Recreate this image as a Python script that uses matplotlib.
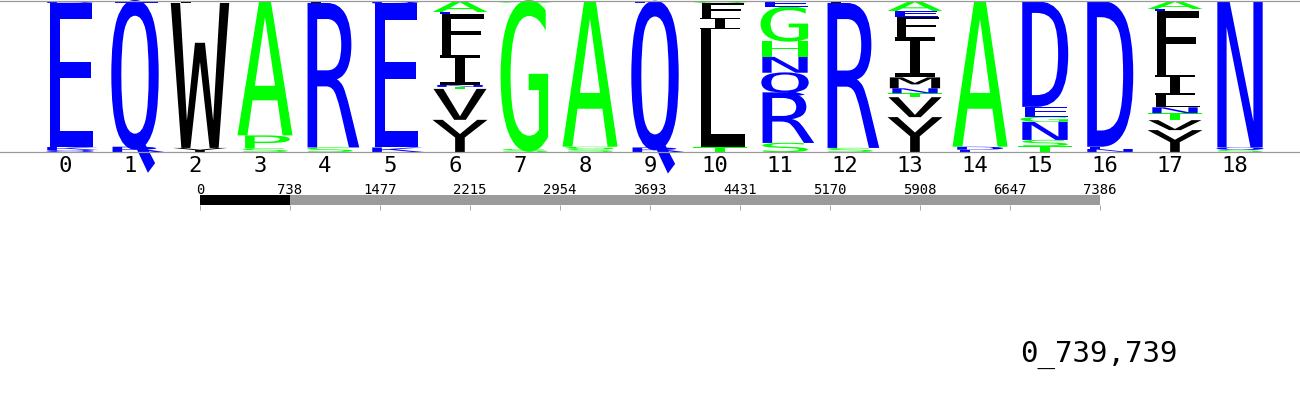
import numpy as np
import matplotlib
matplotlib.use("Agg")
import matplotlib.pyplot as plt
from matplotlib.textpath import TextPath
from matplotlib.font_manager import FontProperties
from matplotlib.path import Path
from matplotlib.patches import PathPatch

# ---------------- data ----------------
positions = list(range(19))
# letters of each column, listed top to bottom
column_letters = [
    ["D", "E", "K", "Q"],
    ["E", "Q", "R"],
    ["L", "W", "Y"],
    ["A", "P", "S"],
    ["L", "R", "S"],
    ["D", "E", "K"],
    ["A", "E", "F", "I", "N", "T", "V", "Y"],
    ["A", "G", "S"],
    ["A", "G", "S"],
    ["E", "Q", "R"],
    ["A", "F", "I", "L", "T"],
    ["E", "G", "H", "N", "Q", "R", "S"],
    ["L", "R", "S"],
    ["A", "E", "F", "I", "M", "N", "T", "V", "Y"],
    ["A", "D", "E"],
    ["D", "E", "G", "N", "S", "T"],
    ["D", "E", "N"],
    ["A", "E", "F", "I", "L", "N", "T", "V", "Y"],
    ["N", "Q", "S"],
]
# matching frequencies (same order)
column_probs = [
    [0.013, 0.954, 0.020, 0.013],
    [0.010, 0.955, 0.035],
    [0.013, 0.960, 0.027],
    [0.890, 0.085, 0.025],
    [0.013, 0.957, 0.030],
    [0.015, 0.955, 0.030],
    [0.073, 0.013, 0.270, 0.200, 0.013, 0.013, 0.205, 0.213],
    [0.010, 0.970, 0.020],
    [0.965, 0.015, 0.020],
    [0.015, 0.955, 0.030],
    [0.013, 0.100, 0.073, 0.781, 0.033],
    [0.040, 0.225, 0.105, 0.105, 0.130, 0.335, 0.060],
    [0.013, 0.960, 0.027],
    [0.066, 0.040, 0.130, 0.270, 0.072, 0.033, 0.026, 0.132, 0.231],
    [0.965, 0.020, 0.015],
    [0.700, 0.066, 0.033, 0.120, 0.040, 0.040],
    [0.965, 0.015, 0.020],
    [0.053, 0.013, 0.421, 0.138, 0.079, 0.039, 0.046, 0.066, 0.145],
    [0.970, 0.015, 0.015],
]
coverage_total = 7386
coverage_selected = 739
coverage_ticks = [0, 738, 1477, 2215, 2954, 3693, 4431, 5170, 5908, 6647, 7386]
caption = "0_739,739"

# ---------------- style ----------------
GREEN, BLUE, BLACK = "#00ff00", "#0000ff", "#000000"
letter_colors = {}
for c in "AGHPSTC":
    letter_colors[c] = GREEN
for c in "DEKNQR":
    letter_colors[c] = BLUE
for c in "FILMVWY":
    letter_colors[c] = BLACK

mono = FontProperties(family="DejaVu Sans Mono")
cap_h = TextPath((0, 0), "E", size=1, prop=mono).get_extents().y1
adv = (TextPath((0, 0), "EE", size=1, prop=mono).get_extents().x1
       - TextPath((0, 0), "E", size=1, prop=mono).get_extents().x1)

W, H = 1300, 400
fig = plt.figure(figsize=(W / 100, H / 100), dpi=100)

# logo axes: pixel rows 1..152, full width
ax = fig.add_axes([0, (H - 152) / H, 1, 151 / H])
ax.set_xlim(-1, 19)
ax.set_ylim(0, 1)
for s in ("left", "right"):
    ax.spines[s].set_visible(False)
for s in ("top", "bottom"):
    ax.spines[s].set_color("#999999")
    ax.spines[s].set_linewidth(0.9)
ax.set_yticks([])
ax.set_xticks(positions)
ax.set_xticklabels([str(p) for p in positions], family="DejaVu Sans Mono",
                   fontsize=16)
ax.tick_params(axis="x", length=0, pad=3)

slot = 0.9
shift = 0.077


def draw_letter(ch, xc, y0, h):
    tp = TextPath((0, 0), ch, size=1, prop=mono)
    v = tp.vertices.copy()
    v[:, 0] = (v[:, 0] - adv / 2) * (slot / adv) + xc + shift
    v[:, 1] = v[:, 1] * (h / cap_h) + y0
    patch = PathPatch(Path(v, tp.codes), facecolor=letter_colors.get(ch, BLACK),
                      edgecolor="none", lw=0, clip_on=False)
    ax.add_patch(patch)


for pos, letters, probs in zip(positions, column_letters, column_probs):
    y = 0.0
    for ch, p in zip(reversed(letters), reversed(probs)):
        if p > 0:
            draw_letter(ch, pos, y, p)
        y += p

# coverage bar
bx = fig.add_axes([200 / W, (H - 205) / H, 900 / W, 10 / H])
bx.set_xlim(0, coverage_total)
bx.set_ylim(0, 1)
bx.barh(0.5, coverage_selected, height=1, left=0, color="black")
bx.barh(0.5, coverage_total - coverage_selected, height=1,
        left=coverage_selected, color="#9b9b9b")
for s in bx.spines.values():
    s.set_visible(False)
bx.set_yticks([])
bx.set_xticks(coverage_ticks)
bx.set_xticklabels([str(t) for t in coverage_ticks], family="DejaVu Sans Mono",
                   fontsize=10)
bx.tick_params(axis="x", bottom=True, top=False, labelbottom=False,
               labeltop=True, length=3.6, width=0.7, color="#aaaaaa", pad=-5.0)

fig.text(1020 / W, (H - 362) / H, caption, family="DejaVu Sans Mono",
         fontsize=21, ha="left", va="baseline")

fig.savefig("out.png", dpi=100)
